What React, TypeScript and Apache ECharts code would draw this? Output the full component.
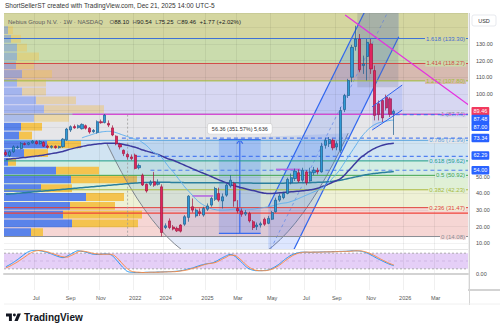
import React, { useEffect, useRef } from 'react';
import * as echarts from 'echarts';

const FONT = 'Liberation Sans, Arial, sans-serif';

// ---------- weekly categories ----------
const DAY_MS = 86400000;
const yandexStart = Date.UTC(2021, 4, 10);
const nebiusStart = Date.UTC(2024, 9, 21);
const yandexBars = 42;
const slotCount = 122;
const categories: string[] = Array.from({ length: slotCount }, (_, i) => {
  const t = i < yandexBars ? yandexStart + i * 7 * DAY_MS : nebiusStart + (i - yandexBars) * 7 * DAY_MS;
  return new Date(t).toISOString().slice(0, 10);
});
const tickIndex = [8, 17, 25, 34, 42, 53, 61, 70, 79, 87, 96, 105, 113];
const tickText = ['Jul', 'Sep', 'Nov', '2022', '2024', '2025', 'Mar', 'May', 'Jul', 'Sep', 'Nov', '2026', 'Mar'];

// ---------- OHLC ----------
const opens = [
  64.6, 62.8, 65.1, 67.6, 67.1, 70.0, 69.6, 70.5, 71.2, 70.0,
  70.8, 68.5, 67.8, 68.4, 67.6, 68.2, 72.3, 78.2, 80.3, 79.6,
  79.0, 80.8, 79.3, 77.2, 76.8, 83.2, 82.7, 82.2, 79.5, 74.5,
  69.5, 66.0, 63.5, 62.0, 63.1, 55.5, 51.0, 45.5, 45.5, 47.0,
  45.5, 44.0,
  19.5, 23.5, 19.8, 19.0, 21.0, 21.5, 25.6, 32.0,
  26.5, 29.0, 27.0, 30.5, 33.0, 36.5, 40.0, 35.5, 39.0, 44.5,
  46.0, 31.0, 29.5, 27.6, 28.0, 23.0, 20.0, 21.0, 24.5, 22.0,
  24.5, 29.0, 36.0, 37.5, 40.0, 46.5, 49.0, 52.5, 48.0, 53.0,
  47.5, 52.5, 54.0, 53.0, 69.0, 70.0, 72.0, 68.0, 66.0, 90.5,
  99.0, 110.0, 128.5, 133.0, 117.0, 122.5, 130.0, 114.0, 94.0, 96.0,
  98.0, 97.0, 88.10,
];
const highs = [
  66, 66, 69, 68.8, 71, 70.8, 71, 72.2, 72, 72,
  71.5, 69.5, 69, 69, 68.8, 73.3, 79.5, 81, 81.5, 81.5,
  82.2, 81.5, 80, 78.8, 84, 84.5, 87.8, 84, 81, 75,
  70.5, 66.5, 64.5, 63.5, 64, 58, 52, 46, 48, 53,
  48.5, 45.5,
  22, 25, 21, 20, 21.5, 27, 39, 37,
  31, 31, 32, 34, 38, 44, 43.5, 40, 46, 51,
  47, 36, 31, 30, 29, 24, 22.5, 23, 25.5, 26.5,
  29.5, 37.5, 40, 41, 49.5, 52, 55, 54.5, 55.5, 54,
  55.5, 56, 55.5, 70.5, 73.5, 74, 73, 71.5, 92, 100,
  109, 129.5, 141, 136, 123, 133, 133, 117, 96, 97,
  99.5, 98, 90.54,
];
const lows = [
  62.5, 62, 64.5, 66.8, 66.5, 69, 69, 70, 69.5, 69.5,
  68, 67, 67, 67, 67, 67.5, 71.8, 77, 79, 79,
  78.5, 78.5, 76, 76.5, 76, 82, 82.2, 80, 74.5, 69,
  66.5, 62.5, 60.5, 60, 54.5, 54.5, 44.5, 40.5, 44.5, 44,
  44.8, 14.08,
  18.5, 18.5, 17.8, 16.8, 16.5, 20.5, 23, 28.5,
  25.5, 26.5, 26, 29.5, 32, 35.5, 35, 31, 38, 43.5,
  32, 28, 26, 26.5, 22.5, 18, 18, 19.5, 20.5, 21.5,
  24, 28.5, 35, 36.5, 39.5, 45.5, 47.5, 46.5, 47, 45,
  47, 51, 51.5, 52.5, 67, 68, 66, 66, 64.5, 89,
  97.5, 107, 126, 113, 112, 108, 112, 84, 84, 83,
  90, 86, 75.25,
];
const closes = [
  63.4, 65.1, 68.1, 68.0, 70.2, 69.5, 70.5, 71.5, 70.0, 71.3,
  68.5, 67.8, 68.5, 67.6, 68.3, 72.7, 78.8, 80.2, 79.5, 80.8,
  81.6, 79.3, 77.0, 78.0, 83.2, 82.6, 87.2, 81.2, 75.2, 70.0,
  68.0, 64.0, 62.0, 61.0, 55.1, 56.8, 45.1, 41.5, 46.8, 45.0,
  46.5, 16.5,
  20.5, 19.5, 18.6, 17.5, 17.3, 26.0, 38.4, 30.0,
  30.0, 28.0, 31.0, 32.5, 37.0, 43.0, 36.0, 38.0, 45.0, 48.0,
  35.5, 29.5, 27.5, 28.5, 23.5, 19.5, 21.0, 21.8, 21.5, 25.0,
  28.5, 36.0, 38.5, 40.0, 48.5, 49.5, 53.5, 47.5, 54.0, 46.5,
  53.0, 54.0, 53.0, 68.5, 72.0, 72.5, 67.5, 70.0, 90.0, 99.0,
  108.0, 128.0, 133.0, 114.5, 118.0, 131.0, 115.0, 87.0, 87.5, 85.5,
  91.5, 87.7, 89.46,
];

// ---------- moving averages ----------
const maNavy = [
  60.5, 60.7, 61, 61.2, 61.5, 61.7, 62, 62.2, 62.5, 62.8,
  63.2, 63.6, 64, 64.4, 64.8, 65.3, 66, 66.7, 67.3, 67.8,
  68.3, 68.8, 69.2, 69.5, 69.8, 70, 70.2, 70.3, 70.3, 70.1,
  69.9, 69.5, 69, 68.4, 67.8, 67, 66.2, 65.5, 64.8, 64.2,
  63.5, 62.5, 61.5, 60.6, 60, 59, 58, 57, 56, 55,
  54, 53, 52.1, 51.2, 50.2, 49.2, 48.2, 47.3, 46.4, 45.5,
  44.7, 44, 43.4, 42.8, 42.2, 41.8, 41.2, 40.6, 40.2, 40,
  40, 40.2, 40.4, 40.6, 40.8, 41, 41.2, 41.4, 41.6, 41.9,
  42.2, 42.6, 43.2, 44, 44.8, 45.8, 46.8, 47.8, 49, 51,
  53.5, 56, 58.5, 61, 62.8, 64.5, 66, 67.2, 68.2, 69,
  69.6, 70, 70.3,
];
const maTeal = [
  39.5, 39.7, 39.9, 40.1, 40.3, 40.5, 40.7, 40.9, 41.1, 41.3,
  41.5, 41.7, 41.9, 42.1, 42.3, 42.5, 42.7, 42.9, 43.1, 43.3,
  43.5, 43.7, 43.9, 44.1, 44.3, 44.5, 44.7, 44.9, 45.1, 45.3,
  45.5, 45.7, 45.9, 46.1, 46.3, 46.4, 46.5, 46.6, 46.7, 46.7,
  46.8, 46.8, 46.7, 46.7, 46.6, 46.6, 46.6, 46.5, 46.5, 46.5,
  46.5, 46.4, 46.4, 46.4, 46.4, 46.4, 46.4, 46.4, 46.4, 46.4,
  46.4, 46.4, 46.3, 46.3, 46.3, 46.2, 46.2, 46.2, 46.2, 46.2,
  46.2, 46.2, 46.2, 46.2, 46.3, 46.3, 46.3, 46.4, 46.4, 46.5,
  46.5, 46.6, 46.7, 46.8, 46.9, 47.1, 47.3, 47.6, 48, 48.5,
  49, 49.5, 50, 50.5, 51, 51.4, 51.8, 52.1, 52.4, 52.6,
  52.8, 53, 53.2,
];
const maLight = [
  null, null, null, null, null, null, null, null, null, null,
  null, null, null, null, null, null, null, null, null, null,
  73.5, 74.3, 75, 75.8, 76.5, 77, 77.3, 77.4, 77.2, 76.6,
  75.8, 75, 74.2, 73.4, 72.7, 72, 70.5, 68.8, 66.5, 64.5,
  63.3, 61.5, 58.5, 55.5, 53, 50, 47, 44, 41.5, 39,
  36.5, 34.5, 33, 31.8, 30.8, 30.3, 30, 30, 30.1, 30.3,
  30.6, 30.8, 30.8, 30.6, 30.5, 30.6, 30.9, 31.2, 31.6, 32,
  32.5, 33.2, 33.8, 34.2, 34.5, 35.2, 36, 37, 38, 39,
  40, 41, 42, 43.3, 45, 47, 49.5, 52, 55, 58.5,
  62, 65.5, 69, 72.5, 75.5, 78, 80, 81.5, 82.5, 83,
  83.5, 84, 84.2,
];

// ---------- stochastic RSI ----------
const stochK = [
  28, 36, 45, 55, 66, 77, 86, 90, 91, 89,
  86, 82, 77, 71, 66, 63, 68, 76, 84, 89,
  87, 84, 80, 76, 75, 76, 77, 76, 70, 55,
  38, 22, 10, 7, 6, 6, 6, 7, 7, 7,
  8, 8, 9, 9, 10, 11, 13, 16, 20, 23,
  28, 33, 37, 40, 42, 47, 55, 63, 70, 75,
  70, 58, 45, 30, 20, 15, 13, 13, 14, 16,
  22, 30, 40, 52, 63, 72, 78, 82, 84, 84,
  83, 84, 84, 85, 85, 85, 86, 86, 87, 87,
  88, 89, 89, 88, 85, 80, 73, 65, 57, 50,
  43, 37, 32,
];
const stochD = [
  24, 30, 38, 46, 56, 66, 76, 84, 89, 90,
  88, 85, 80, 75, 70, 66, 65, 70, 77, 85,
  88, 86, 83, 79, 77, 76, 76, 76, 74, 65,
  50, 34, 20, 11, 8, 7, 6, 6, 7, 7,
  7, 8, 8, 9, 9, 10, 12, 14, 17, 21,
  25, 30, 35, 39, 41, 44, 50, 58, 65, 72,
  72, 64, 52, 38, 26, 18, 14, 13, 13, 15,
  19, 26, 35, 46, 57, 67, 75, 80, 83, 84,
  84, 84, 84, 84, 85, 85, 85, 86, 86, 87,
  87, 88, 89, 89, 87, 83, 77, 70, 62, 54,
  47, 40, 35,
];

// ---------- fibonacci ----------
const fibRatios = [0, 0.236, 0.382, 0.5, 0.618, 0.786, 1, 1.272, 1.414, 1.618];
const fibPrices = [14.08, 31.47, 42.23, 50.92, 59.62, 71.99, 87.74, 107.8, 118.27, 133.3];
const fibColors = ['#8a8d94', '#e0403c', '#a9b83c', '#3fa34d', '#22a38a', '#5aa5de', '#8a8d94', '#9fbf3a', '#d24a48', '#3d6fd6'];
const zoneColors = ['#f6d6d4', '#eef1d5', '#e0f0d6', '#d4ede3', '#d1e4f2', '#e6e6e9', '#d7d7f2', '#d7bab0', '#cadcad', '#d4d6a0'];

// ---------- volume profile (bins from bottom) ----------
const vpBase = 14.08;
const vpStep = 5.29;
const vpBlue = [27, 68, 59, 66, 82, 37, 67, 52, 4, 20, 43, 15, 17, 30, 40, 32, 18, 13, 18, 12, 13, 13, 7, 4];
const vpYellow = [12, 66, 79, 45, 38, 31, 66, 43, 8, 24, 34, 13, 21, 35, 60, 40, 24, 29, 30, 18, 22, 10, 10, 5];
const vpValueAreaTop = 12;

// ---------- drawings (bar index, price) ----------
const bowlStart = [26.5, 70.2];
const bowlControl = [58.25, -80.9];
const bowlEnd = [90, 76.3];
const channelUpper = [[69, 32], [103.3, 191]];
const channelLower = [[69, -25], [103.3, 134.4]];
const smallUpper = [[96.3, 92.2], [104.2, 105.3]];
const smallLower = [[96.3, 78.2], [104.2, 90.2]];
const grayBox = [[92.4, 104], [103.2, 160]];
const measureBars = [56, 67];
const measurePrices = [16.03, 72.39];
const measureLabel = '56.36 (351.57%) 5,636';
const magentaRay = [[89.2, 147.5], [122.1, 92.6]];
const magentaLevel = 87.7;
const magentaLevelStart = 17.5;
const redLevel = 28.2;
const purpleSegments = [[[49, 38.5], [54.5, 38.5]], [[71, 54.5], [77.4, 54.5]]];
const dottedVertical = [32, 14, 87.7];
const dashedLevels = [73.34, 62.29, 54.0, 87.48];
const dashedStarts = [30.5, 34.4, 38, 102.5];

// ---------- price tags ----------
const tagValues = [89.46, 87.48, 87.0, 73.34, 62.29, 54.0];
const tagColors = ['#f23a5e', '#2962ff', '#2962ff', '#2962ff', '#2962ff', '#2962ff'];
const tagShift = [0, 4.4, 11.3, 0, -1, 0];
const hiddenPriceLabels = [60, 70, 80, 90, 140];

const one = [[0, 0]];
const mkPt = (api: any) => {
  const a = api.coord([0, 0]);
  const b = api.coord([1, 0]);
  const step = b[0] - a[0];
  return (i: number, p: number): number[] => [a[0] + i * step, api.coord([0, p])[1]];
};

const LOGO_D = 'M14 22H7V11H0V4h14v18z M28 22h-8l7.5-18h8L28 22z M20 4a3.5 3.5 0 1 1 0 7a3.5 3.5 0 1 1 0-7z';

export default function App() {
  const ref = useRef<HTMLDivElement>(null);
  useEffect(() => {
    if (!ref.current) return;
    try {
      echarts.graphic.registerShape('tvlogo', echarts.graphic.extendPath(LOGO_D, {}) as any);
    } catch (e) { /* ignore */ }
    const chart = echarts.init(ref.current, undefined, { renderer: 'svg' });

    const catAxisBase = {
      type: 'category',
      data: categories,
      boundaryGap: true,
      axisTick: { show: false },
      z: 4,
      splitLine: { show: true, interval: (i: number) => tickIndex.includes(i), lineStyle: { color: 'rgba(0,0,0,0.06)', width: 1 } },
    };

    const option: any = {
      animation: false,
      textStyle: { fontFamily: FONT },
      grid: [
        { left: 4, right: 32, top: 13, height: 236 },
        { left: 4, right: 32, top: 249, height: 41 },
        { left: 4, right: 32, top: 13, height: 236 },
      ],
      xAxis: [
        { ...catAxisBase, gridIndex: 0, axisLine: { show: false }, axisLabel: { show: false } },
        {
          ...catAxisBase, gridIndex: 1,
          axisLine: { show: true, lineStyle: { color: '#d3d3d3', width: 2 } },
          axisLabel: {
            show: true, interval: (i: number) => tickIndex.includes(i),
            formatter: (_v: string, i: number) => tickText[tickIndex.indexOf(i)] || '',
            fontSize: 5.5, color: '#555', margin: 5, fontFamily: FONT,
          },
        },
        { type: 'value', gridIndex: 2, min: 0, max: 464, show: false },
      ],
      yAxis: [
        {
          type: 'value', gridIndex: 0, position: 'right', min: 6.57, max: 148.67, splitNumber: 14, z: 4,
          axisLine: { show: false }, axisTick: { show: false },
          axisLabel: { fontSize: 5.5, color: '#4a4a4a', margin: 8, fontFamily: FONT, showMinLabel: false, showMaxLabel: false,
            formatter: (v: number) => (hiddenPriceLabels.includes(Math.round(v)) || Math.abs(v - Math.round(v)) > 0.001 ? '' : v.toFixed(2)) },
          splitLine: { lineStyle: { color: 'rgba(0,0,0,0.05)' } },
        },
        {
          type: 'value', gridIndex: 1, position: 'right', min: -61, max: 96, splitNumber: 3,
          axisLine: { show: false }, axisTick: { show: false }, splitLine: { show: false },
          axisLabel: { fontSize: 5.5, color: '#4a4a4a', margin: 8, showMinLabel: false, showMaxLabel: false, formatter: (v: number) => (v === 0 ? '0.00' : '') },
        },
        { type: 'value', gridIndex: 2, min: 6.57, max: 148.67, show: false },
      ],
      series: [
        // fib zones
        {
          type: 'custom', xAxisIndex: 0, yAxisIndex: 0, z: 1, silent: true, clip: true,
          data: fibPrices.map((p) => [0, p]),
          renderItem: (params: any, api: any) => {
            const i = params.dataIndex;
            const cs = params.coordSys;
            const yLow = api.coord([0, fibPrices[i]])[1];
            const yHigh = i + 1 < fibPrices.length ? api.coord([0, fibPrices[i + 1]])[1] : cs.y;
            return { type: 'rect', shape: { x: cs.x, y: yHigh, width: cs.width, height: yLow - yHigh }, style: { fill: zoneColors[i] } };
          },
        },
        // volume profile
        {
          type: 'custom', xAxisIndex: 2, yAxisIndex: 2, z: 2, silent: true, clip: true,
          data: vpBlue.map((b, k) => [b, vpBase + k * vpStep]),
          renderItem: (params: any, api: any) => {
            const k = params.dataIndex;
            const lo = vpBase + k * vpStep;
            const hi = lo + vpStep;
            const a = api.coord([0, hi]);
            const b = api.coord([vpBlue[k], lo]);
            const c = api.coord([vpBlue[k] + vpYellow[k], lo]);
            const h = b[1] - a[1] - 1;
            const strong = k <= vpValueAreaTop;
            return {
              type: 'group', children: [
                { type: 'rect', shape: { x: a[0], y: a[1] + 0.5, width: b[0] - a[0], height: h }, style: { fill: strong ? '#5a83ea' : 'rgba(90,131,234,0.42)' } },
                { type: 'rect', shape: { x: b[0], y: a[1] + 0.5, width: c[0] - b[0], height: h }, style: { fill: strong ? '#f4c34f' : 'rgba(244,195,79,0.42)' } },
              ],
            };
          },
        },
        // bowl arc
        {
          type: 'custom', xAxisIndex: 0, yAxisIndex: 0, z: 3, silent: true, clip: true, data: one,
          renderItem: (_p: any, api: any) => {
            const P = mkPt(api);
            const s = P(bowlStart[0], bowlStart[1]);
            const c = P(bowlControl[0], bowlControl[1]);
            const e = P(bowlEnd[0], bowlEnd[1]);
            return { type: 'bezierCurve', shape: { x1: s[0], y1: s[1], x2: e[0], y2: e[1], cpx1: c[0], cpy1: c[1] },
              style: { stroke: '#80868f', lineWidth: 1, fill: 'rgba(80,130,220,0.15)' } };
          },
        },
        // big channel + gray box + measurement
        {
          type: 'custom', xAxisIndex: 0, yAxisIndex: 0, z: 3, silent: true, clip: true, data: one,
          renderItem: (_p: any, api: any) => {
            const P = mkPt(api);
            const a0 = P(channelUpper[0][0], channelUpper[0][1]);
            const a1 = P(channelUpper[1][0], channelUpper[1][1]);
            const b0 = P(channelLower[0][0], channelLower[0][1]);
            const b1 = P(channelLower[1][0], channelLower[1][1]);
            const m0 = [(a0[0] + b0[0]) / 2, (a0[1] + b0[1]) / 2];
            const m1 = [(a1[0] + b1[0]) / 2, (a1[1] + b1[1]) / 2];
            const g0 = P(grayBox[0][0], grayBox[0][1]);
            const g1 = P(grayBox[1][0], grayBox[1][1]);
            const r0 = P(measureBars[0], measurePrices[0]);
            const r1 = P(measureBars[1], measurePrices[1]);
            const mx = (r0[0] + r1[0]) / 2;
            return {
              type: 'group', children: [
                { type: 'polygon', shape: { points: [a0, a1, b1, b0] }, style: { fill: 'rgba(41,98,255,0.16)' } },
                { type: 'line', shape: { x1: a0[0], y1: a0[1], x2: a1[0], y2: a1[1] }, style: { stroke: '#2f66f0', lineWidth: 1.2 } },
                { type: 'line', shape: { x1: b0[0], y1: b0[1], x2: b1[0], y2: b1[1] }, style: { stroke: '#2f66f0', lineWidth: 1.2 } },
                { type: 'line', shape: { x1: m0[0], y1: m0[1], x2: m1[0], y2: m1[1] }, style: { stroke: '#6b8de8', lineWidth: 0.8, lineDash: [3, 3] } },
                { type: 'rect', shape: { x: g0[0], y: g1[1], width: g1[0] - g0[0], height: g0[1] - g1[1] }, style: { fill: 'rgba(105,115,140,0.22)' } },
                { type: 'rect', shape: { x: r0[0], y: r1[1], width: r1[0] - r0[0], height: r0[1] - r1[1] }, style: { fill: 'rgba(41,98,255,0.2)' } },
                { type: 'line', shape: { x1: r0[0], y1: r1[1], x2: r1[0], y2: r1[1] }, style: { stroke: '#3a6cf0', lineWidth: 1.3 } },
                { type: 'line', shape: { x1: r0[0], y1: r0[1], x2: r1[0], y2: r0[1] }, style: { stroke: '#3a6cf0', lineWidth: 1.3 } },
                { type: 'line', shape: { x1: mx, y1: r0[1], x2: mx, y2: r1[1] }, style: { stroke: '#3a6cf0', lineWidth: 1.2 } },
                { type: 'polyline', shape: { points: [[mx - 3, r1[1] + 4], [mx, r1[1]], [mx + 3, r1[1] + 4]] }, style: { stroke: '#3a6cf0', lineWidth: 1.2, fill: 'none' } },
              ],
            };
          },
        },
        // fib lines & labels
        {
          type: 'custom', xAxisIndex: 0, yAxisIndex: 0, z: 4, silent: true, clip: true,
          data: fibPrices.map((p) => [0, p]),
          renderItem: (params: any, api: any) => {
            const i = params.dataIndex;
            const cs = params.coordSys;
            const y = api.coord([0, fibPrices[i]])[1];
            return {
              type: 'group', children: [
                { type: 'line', shape: { x1: cs.x, y1: y, x2: cs.x + cs.width, y2: y }, style: { stroke: fibColors[i], lineWidth: 1 } },
                { type: 'text', x: cs.x + cs.width - 2, y, style: { text: `${fibRatios[i]} (${fibPrices[i].toFixed(2)})`, fill: fibColors[i], fontSize: 6, fontFamily: FONT, align: 'right', verticalAlign: 'middle', backgroundColor: zoneColors[i], padding: [0, 1] } },
              ],
            };
          },
        },
        // horizontal / misc lines
        {
          type: 'custom', xAxisIndex: 0, yAxisIndex: 0, z: 4, silent: true, clip: true, data: one,
          renderItem: (params: any, api: any) => {
            const P = mkPt(api);
            const cs = params.coordSys;
            const right = cs.x + cs.width;
            const children: any[] = [];
            const yr = api.coord([0, redLevel])[1];
            children.push({ type: 'line', shape: { x1: cs.x, y1: yr, x2: right, y2: yr }, style: { stroke: '#f0433a', lineWidth: 1.3 } });
            const mg = P(magentaLevelStart, magentaLevel);
            children.push({ type: 'line', shape: { x1: mg[0], y1: mg[1], x2: right, y2: mg[1] }, style: { stroke: '#e52fe0', lineWidth: 1.2 } });
            const d0 = P(magentaRay[0][0], magentaRay[0][1]);
            const d1 = P(magentaRay[1][0], magentaRay[1][1]);
            children.push({ type: 'line', shape: { x1: d0[0], y1: d0[1], x2: d1[0], y2: d1[1] }, style: { stroke: '#e52fe0', lineWidth: 1.2 } });
            dashedLevels.forEach((lv, k) => {
              const s = P(dashedStarts[k], lv);
              children.push({ type: 'line', shape: { x1: s[0], y1: s[1], x2: right, y2: s[1] }, style: { stroke: '#3b6ef0', lineWidth: 1.2, lineDash: [4, 3], opacity: 0.85 } });
            });
            purpleSegments.forEach((seg) => {
              const s = P(seg[0][0], seg[0][1]);
              const e = P(seg[1][0], seg[1][1]);
              children.push({ type: 'line', shape: { x1: s[0], y1: s[1], x2: e[0], y2: e[1] }, style: { stroke: '#b468e0', lineWidth: 1.6 } });
            });
            const v0 = P(dottedVertical[0], dottedVertical[1]);
            const v1 = P(dottedVertical[0], dottedVertical[2]);
            children.push({ type: 'line', shape: { x1: v0[0], y1: v0[1], x2: v1[0], y2: v1[1] }, style: { stroke: '#9a9a9a', lineWidth: 0.8, lineDash: [2, 2] } });
            return { type: 'group', children };
          },
        },
        // moving averages
        { type: 'line', xAxisIndex: 0, yAxisIndex: 0, z: 5, data: maTeal, showSymbol: false, smooth: true, silent: true, lineStyle: { color: '#2a7f9e', width: 1.5 } },
        { type: 'line', xAxisIndex: 0, yAxisIndex: 0, z: 5, data: maNavy, showSymbol: false, smooth: true, silent: true, lineStyle: { color: '#3c3a9e', width: 1.5 } },
        { type: 'line', xAxisIndex: 0, yAxisIndex: 0, z: 5, data: maLight, showSymbol: false, smooth: true, silent: true, lineStyle: { color: '#5fb0ee', width: 1 } },
        // candles
        {
          type: 'candlestick', xAxisIndex: 0, yAxisIndex: 0, z: 6, barWidth: 2.6, silent: true,
          data: opens.map((o, i) => [o, closes[i], lows[i], highs[i]]),
          itemStyle: { color: '#2f9ad6', color0: '#e0245e', borderColor: '#1d5c8e', borderColor0: '#a3173f', borderWidth: 0.7 },
        },
        // small channel
        {
          type: 'custom', xAxisIndex: 0, yAxisIndex: 0, z: 7, silent: true, clip: true, data: one,
          renderItem: (_p: any, api: any) => {
            const P = mkPt(api);
            const a0 = P(smallUpper[0][0], smallUpper[0][1]);
            const a1 = P(smallUpper[1][0], smallUpper[1][1]);
            const b0 = P(smallLower[0][0], smallLower[0][1]);
            const b1 = P(smallLower[1][0], smallLower[1][1]);
            return {
              type: 'group', children: [
                { type: 'polygon', shape: { points: [a0, a1, b1, b0] }, style: { fill: 'rgba(41,98,255,0.12)' } },
                { type: 'line', shape: { x1: a0[0], y1: a0[1], x2: a1[0], y2: a1[1] }, style: { stroke: '#2f66f0', lineWidth: 1 } },
                { type: 'line', shape: { x1: b0[0], y1: b0[1], x2: b1[0], y2: b1[1] }, style: { stroke: '#2f66f0', lineWidth: 1 } },
              ],
            };
          },
        },
        // measurement label
        {
          type: 'custom', xAxisIndex: 0, yAxisIndex: 0, z: 8, silent: true, clip: false, data: one,
          renderItem: (_p: any, api: any) => {
            const P = mkPt(api);
            const c = P((measureBars[0] + measureBars[1]) / 2, measurePrices[1]);
            return { type: 'text', x: c[0], y: c[1] - 11, style: { text: measureLabel, fill: '#333', fontSize: 5.5, fontFamily: FONT, align: 'center', verticalAlign: 'middle', backgroundColor: '#ffffff', borderColor: '#d0d0d0', borderWidth: 0.6, borderRadius: 2, padding: [2, 4] } };
          },
        },
        // price tags
        {
          type: 'custom', xAxisIndex: 0, yAxisIndex: 0, z: 10, silent: true, clip: false,
          data: tagValues.map((v) => [0, v]),
          renderItem: (params: any, api: any) => {
            const i = params.dataIndex;
            const cs = params.coordSys;
            const y = api.coord([0, tagValues[i]])[1] + tagShift[i];
            return { type: 'text', x: cs.x + cs.width + 3.5, y, style: { text: tagValues[i].toFixed(2), fill: '#ffffff', fontSize: 5.5, fontFamily: FONT, align: 'left', verticalAlign: 'middle', backgroundColor: tagColors[i], padding: [1.5, 2, 1, 2], borderRadius: 1 } };
          },
        },
        // oscillator band
        {
          type: 'custom', xAxisIndex: 1, yAxisIndex: 1, z: 1, silent: true, clip: true, data: one,
          renderItem: (params: any, api: any) => {
            const cs = params.coordSys;
            const y80 = api.coord([0, 80])[1];
            const y20 = api.coord([0, 20])[1];
            const y50 = api.coord([0, 50])[1];
            const r = cs.x + cs.width;
            return {
              type: 'group', children: [
                { type: 'rect', shape: { x: cs.x, y: y80, width: cs.width, height: y20 - y80 }, style: { fill: '#e5cff7' } },
                { type: 'line', shape: { x1: cs.x, y1: y80, x2: r, y2: y80 }, style: { stroke: '#9a9a9a', lineWidth: 0.8, lineDash: [2, 2] } },
                { type: 'line', shape: { x1: cs.x, y1: y20, x2: r, y2: y20 }, style: { stroke: '#9a9a9a', lineWidth: 0.8, lineDash: [2, 2] } },
                { type: 'line', shape: { x1: cs.x, y1: y50, x2: r, y2: y50 }, style: { stroke: '#c0a8d8', lineWidth: 0.6, lineDash: [3, 3] } },
              ],
            };
          },
        },
        { type: 'line', xAxisIndex: 1, yAxisIndex: 1, z: 5, data: stochK, showSymbol: false, smooth: true, silent: true, lineStyle: { color: '#2196f3', width: 1 } },
        { type: 'line', xAxisIndex: 1, yAxisIndex: 1, z: 5, data: stochD, showSymbol: false, smooth: true, silent: true, lineStyle: { color: '#ff8a3d', width: 1 } },
      ],
      graphic: [
        { type: 'text', left: 5, top: 2, z: 20, style: { text: 'ShortSellerST created with TradingView.com, Dec 21, 2025 14:00 UTC-5', fill: '#333', fontSize: 6.5, fontFamily: FONT } },
        {
          type: 'text', left: 8, top: 15.5, z: 20,
          style: {
            text: '{a|Nebius Group N.V. · 1W · NASDAQ}  {a|O}{b|88.10} {a|H}{b|90.54} {a|L}{b|75.25} {a|C}{b|89.46} {b|+1.77 (+2.02%)}',
            fontFamily: FONT,
            rich: { a: { fill: '#5a5a5a', fontSize: 6, fontFamily: FONT }, b: { fill: '#222', fontSize: 6, fontFamily: FONT } },
          },
        },
        { type: 'rect', shape: { x: 472, y: 15, width: 24, height: 11, r: 2 }, z: 20, style: { fill: '#fff', stroke: '#dcdfe6', lineWidth: 0.7 } },
        { type: 'text', x: 484, y: 20.5, z: 21, style: { text: 'USD', fill: '#333', fontSize: 5.5, fontFamily: FONT, align: 'center', verticalAlign: 'middle' } },
        { type: 'line', z: 15, shape: { x1: 469.5, y1: 13, x2: 469.5, y2: 305 }, style: { stroke: '#c9c9c9', lineWidth: 0.8 } },
        { type: 'line', z: 15, shape: { x1: 4, y1: 249.5, x2: 468, y2: 249.5 }, style: { stroke: '#e2e2e2', lineWidth: 0.8 } },
        { type: 'line', z: 15, shape: { x1: 468, y1: 290, x2: 500, y2: 290 }, style: { stroke: '#d3d3d3', lineWidth: 2 } },
        { type: 'line', z: 15, shape: { x1: 4, y1: 304, x2: 500, y2: 304 }, style: { stroke: '#ececec', lineWidth: 0.8 } },
        { type: 'tvlogo', x: 6, y: 311.8, scaleX: 0.42, scaleY: 0.42, z: 20, style: { fill: '#131722' } },
        { type: 'text', left: 24, top: 312, z: 20, style: { text: 'TradingView', fill: '#131722', fontSize: 10, fontWeight: 'bold', fontFamily: FONT } },
      ],
    };

    chart.setOption(option);
    return () => chart.dispose();
  }, []);
  return <div ref={ref} style={{ position: 'absolute', left: 0, top: 0, width: 500, height: 333 }} />;
}
